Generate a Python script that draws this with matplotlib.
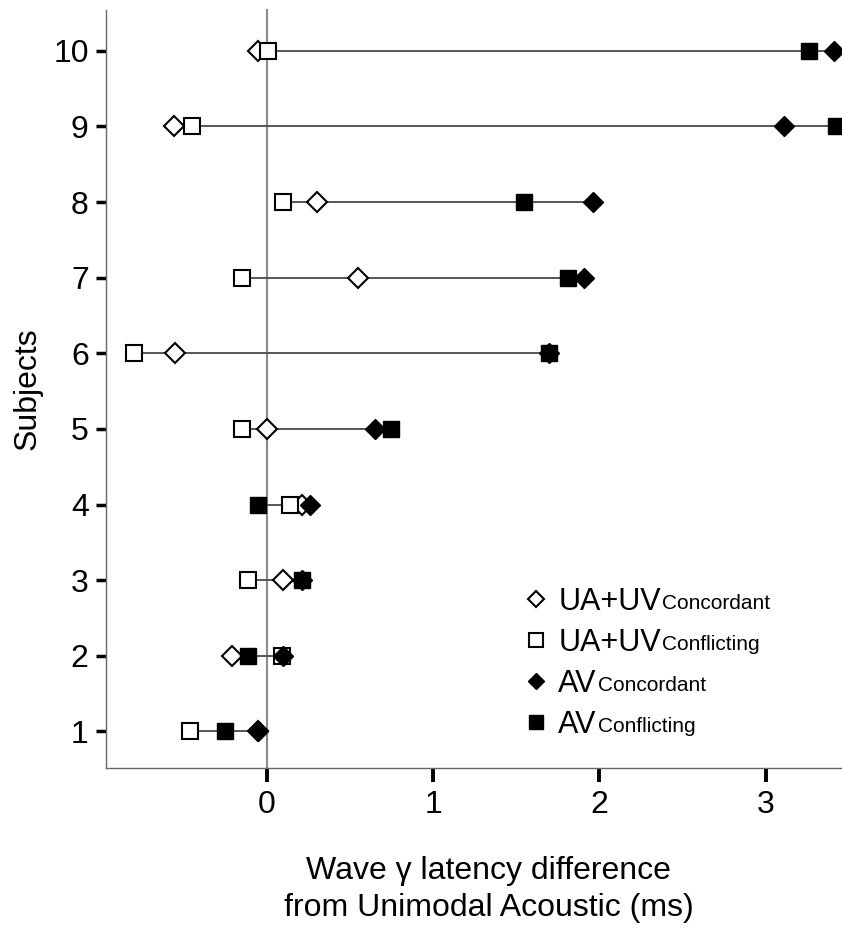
import numpy as np
import matplotlib
matplotlib.use("Agg")
import matplotlib.pyplot as plt
from matplotlib.lines import Line2D

plt.rcParams['font.family'] = ['Liberation Sans', 'DejaVu Sans']

# Latency differences (ms) per subject
subjects = [1, 2, 3, 4, 5, 6, 7, 8, 9, 10]
uauv_concordant = [-0.05, -0.21, 0.10, 0.21, 0.00, -0.55, 0.55, 0.30, -0.56, -0.05]
uauv_conflicting = [-0.46, 0.09, -0.11, 0.14, -0.15, -0.80, -0.15, 0.10, -0.45, 0.01]
av_concordant = [-0.05, 0.10, 0.21, 0.26, 0.65, 1.70, 1.91, 1.96, 3.11, 3.41]
av_conflicting = [-0.25, -0.11, 0.21, -0.05, 0.75, 1.70, 1.81, 1.55, 3.42, 3.26]

x_ticks = [0, 1, 2, 3]
legend_main = ["UA+UV", "UA+UV", "AV", "AV"]
legend_sub = ["Concordant", "Conflicting", "Concordant", "Conflicting"]

fig = plt.figure(figsize=(8.42, 9.31), dpi=100)
ax = fig.add_axes([0.1259, 0.1754, 0.8741, 0.8139])

# zero reference line
ax.axvline(0, color='#8a8a8a', lw=1.5, zorder=1, clip_on=False)

# range line per subject
allv = np.array([uauv_concordant, uauv_conflicting, av_concordant, av_conflicting])
ax.hlines(subjects, allv.min(axis=0), allv.max(axis=0), color='#555555', lw=1.4, zorder=2)

ax.plot(uauv_concordant, subjects, 'D', ls='none', ms=10, mfc='white', mec='black', mew=1.5, zorder=3)
ax.plot(uauv_conflicting, subjects, 's', ls='none', ms=11.5, mfc='white', mec='black', mew=1.5, zorder=4)
ax.plot(av_concordant, subjects, 'D', ls='none', ms=10, mfc='black', mec='black', mew=1.0, zorder=5, clip_on=False)
ax.plot(av_conflicting, subjects, 's', ls='none', ms=11.5, mfc='black', mec='black', mew=1.0, zorder=6, clip_on=False)

ax.set_xlim(-0.966, 3.459)
ax.set_ylim(0.52, 10.54)
ax.set_xticks(x_ticks)
ax.set_yticks(subjects)

for s in ['top', 'right']:
    ax.spines[s].set_visible(False)
for s in ['left', 'bottom']:
    ax.spines[s].set_color('#666666')
    ax.spines[s].set_linewidth(1.0)

ax.tick_params(axis='x', direction='out', length=10, width=2.8, color='black', labelsize=23, pad=6)
ax.tick_params(axis='y', direction='out', length=7.5, width=2.5, color='black', labelsize=23, pad=5)

ax.set_ylabel("Subjects", fontsize=23, labelpad=8)
ax.set_xlabel("Wave \u03b3 latency difference\nfrom Unimodal Acoustic (ms)", fontsize=23,
              linespacing=1.3)
ax.xaxis.set_label_coords(0.52, -0.117)

# legend, with the condition names as subscripts
handles = [
    Line2D([], [], marker='D', ls='none', ms=8, mfc='white', mec='black', mew=1.5),
    Line2D([], [], marker='s', ls='none', ms=10, mfc='white', mec='black', mew=1.5),
    Line2D([], [], marker='D', ls='none', ms=8, mfc='black', mec='black'),
    Line2D([], [], marker='s', ls='none', ms=10, mfc='black', mec='black'),
]
leg = ax.legend(handles, legend_main, loc='upper left', bbox_to_anchor=(0.5639, 0.2385),
                frameon=False, fontsize=22, borderpad=0, borderaxespad=0,
                handlelength=1.0, handletextpad=0.22, labelspacing=0.36)
leg.set_zorder(8)
for t, sub in zip(leg.get_texts(), legend_sub):
    ax.annotate(sub, xy=(1, 0), xycoords=t, xytext=(0.5, 3), textcoords='offset points',
                va='bottom', ha='left', fontsize=15, zorder=10)

fig.savefig("out.png", dpi=100)
